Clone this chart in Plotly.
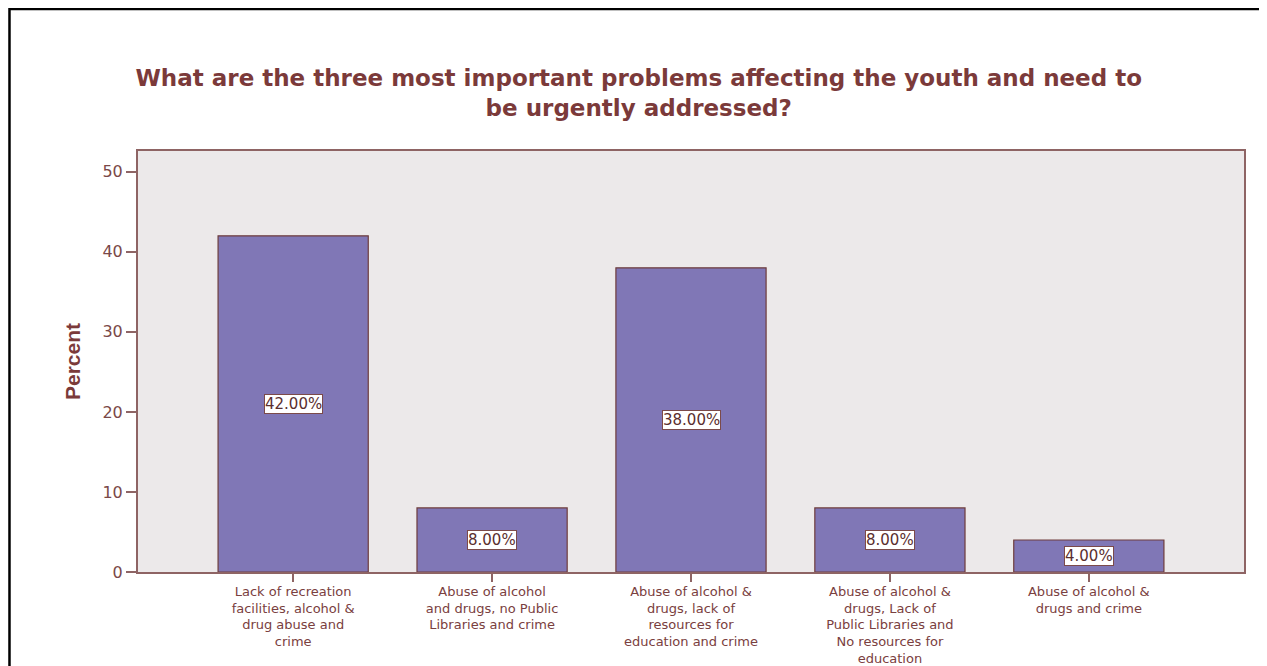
import plotly.graph_objects as go

categories = [
    "Lack of recreation<br>facilities, alcohol &<br>drug abuse and<br>crime",
    "Abuse of alcohol<br>and drugs, no Public<br>Libraries and crime",
    "Abuse of alcohol &<br>drugs, lack of<br>resources for<br>education and crime",
    "Abuse of alcohol &<br>drugs, Lack of<br>Public Libraries and<br>No resources for<br>education",
    "Abuse of alcohol &<br>drugs and crime",
]
percent = [42, 8, 38, 8, 4]
y_ticks = [0, 10, 20, 30, 40, 50]

brown = "#7b3a3a"
axis_brown = "#8e6464"
wide_font = "DejaVu Sans, Verdana, sans-serif"

fig = go.Figure()

fig.add_trace(go.Bar(
    x=list(range(len(categories))),
    y=percent,
    width=0.755,
    marker=dict(color="#8077b6", line=dict(color="#6e3c3c", width=1.2)),
    hoverinfo="y",
))

# value labels inside bars, white boxes
for i, v in enumerate(percent):
    fig.add_annotation(
        x=i, y=v / 2, text=f"{v:.2f}%", showarrow=False,
        font=dict(family=wide_font, size=15, color="#5a2e2e"),
        bgcolor="white", bordercolor="#7b4a4a", borderwidth=1, borderpad=0,
    )

# outer black frame (page has an 8px body margin)
fig.add_shape(
    type="rect", xref="paper", yref="paper",
    x0=-0.1162, x1=1.05, y0=-0.3, y1=1.3373,
    line=dict(color="black", width=2.5), fillcolor="rgba(0,0,0,0)",
    layer="below",
)

fig.update_layout(
    width=1259, height=658,
    margin=dict(l=130, r=23, t=143, b=94, autoexpand=False),
    paper_bgcolor="white",
    plot_bgcolor="#ece9ea",
    showlegend=False,
    title=dict(
        text="What are the three most important problems affecting the youth and need to<br>be urgently addressed?",
        x=0.501, xanchor="center", y=0.881, yanchor="middle",
        font=dict(family=wide_font, size=23, color=brown, weight="bold"),
    ),
    font=dict(family=wide_font, color="#7a4848"),
)

fig.update_xaxes(
    range=[-0.78, 4.78],
    tickvals=list(range(len(categories))),
    ticktext=categories,
    ticks="outside", ticklen=8, tickcolor=axis_brown, tickwidth=2,
    tickfont=dict(family=wide_font, size=13, color="#7a4040"),
    ticklabelstandoff=-2,
    showline=True, linecolor=axis_brown, linewidth=2, mirror=True,
    showgrid=False, zeroline=False, automargin=False,
)
fig.update_yaxes(
    range=[0, 52.6],
    tickvals=y_ticks,
    ticks="outside", ticklen=10, tickcolor=axis_brown, tickwidth=2,
    tickfont=dict(family=wide_font, size=16, color="#7a4848"),
    showline=True, linecolor=axis_brown, linewidth=2, mirror=True,
    showgrid=False, zeroline=False, automargin=False,
    title=dict(text="Percent", standoff=16,
               font=dict(family="Liberation Sans Narrow, Liberation Sans, Arial", size=21, color=brown, weight="bold")),
)

fig.write_html("out.html")
